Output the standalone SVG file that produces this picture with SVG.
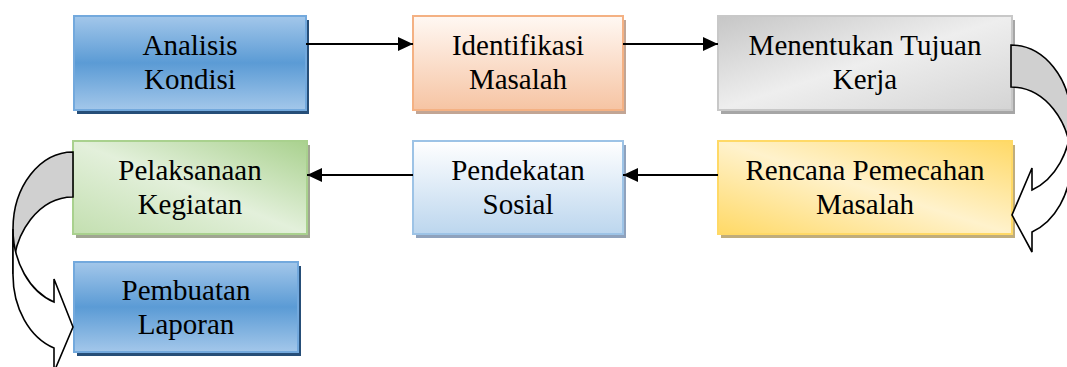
<svg xmlns="http://www.w3.org/2000/svg" width="1067" height="367" viewBox="0 0 1067 367">
<style>
.lbl{font-family:"Liberation Serif","Times New Roman",serif;font-size:29px;fill:#000;text-anchor:middle}
.conn{stroke:#000;stroke-width:2;fill:none}
.curve{stroke:#000;stroke-width:1.6;stroke-linejoin:miter}
.box{stroke-width:2}
</style>
<defs>
<marker id="ah" markerUnits="userSpaceOnUse" markerWidth="16" markerHeight="14" refX="15" refY="7" orient="auto">
<path d="M0,0 L15,7 L0,14 Z" fill="#000"/>
</marker>
<linearGradient id="gBlue" x1="0" y1="0" x2="0" y2="1">
<stop offset="0" stop-color="#a3c7ea"/><stop offset="0.5" stop-color="#5b9bd5"/><stop offset="1" stop-color="#a3c7ea"/>
</linearGradient>
<linearGradient id="gOrange" x1="0" y1="0" x2="0" y2="1">
<stop offset="0" stop-color="#fff8f3"/><stop offset="1" stop-color="#f6c4a3"/>
</linearGradient>
<linearGradient id="gGray" x1="0" y1="0" x2="1" y2="1">
<stop offset="0" stop-color="#c6c6c6"/><stop offset="0.5" stop-color="#eeeeee"/><stop offset="1" stop-color="#d4d4d4"/>
</linearGradient>
<linearGradient id="gGreen" x1="1" y1="0" x2="0" y2="1">
<stop offset="0" stop-color="#a9d18e"/><stop offset="0.5" stop-color="#e3f0db"/><stop offset="1" stop-color="#c3dfb0"/>
</linearGradient>
<linearGradient id="gLBlue" x1="0" y1="0" x2="0" y2="1">
<stop offset="0" stop-color="#ffffff"/><stop offset="1" stop-color="#bcd6ee"/>
</linearGradient>
<linearGradient id="gYellow" x1="1" y1="0" x2="0" y2="1">
<stop offset="0" stop-color="#ffd966"/><stop offset="0.5" stop-color="#fff2cc"/><stop offset="1" stop-color="#ffd966"/>
</linearGradient>
</defs>
<rect width="1067" height="367" fill="#fff"/>

<g id="node-analisis">
<rect x="77" y="20" width="232" height="94" fill="#264e78"/>
<rect class="box" x="74" y="16" width="232" height="94" fill="url(#gBlue)" stroke="#73a9dd"/>
<text class="lbl" x="190" y="55">Analisis</text>
<text class="lbl" x="190" y="89">Kondisi</text>
</g>
<g id="node-identifikasi">
<rect x="416" y="20" width="210" height="94" fill="#c2a594"/>
<rect class="box" x="413" y="16" width="210" height="94" fill="url(#gOrange)" stroke="#f4b183"/>
<text class="lbl" x="518" y="55">Identifikasi</text>
<text class="lbl" x="518" y="89">Masalah</text>
</g>
<g id="node-menentukan">
<rect x="721" y="20" width="294" height="94" fill="#a6a6a6"/>
<rect class="box" x="718" y="16" width="294" height="94" fill="url(#gGray)" stroke="#c8c8c8"/>
<text class="lbl" x="865" y="55">Menentukan Tujuan</text>
<text class="lbl" x="865" y="89">Kerja</text>
</g>
<g id="node-pelaksanaan">
<rect x="76" y="145" width="234" height="93" fill="#a0a592"/>
<rect class="box" x="73" y="141" width="234" height="93" fill="url(#gGreen)" stroke="#a9d18e"/>
<text class="lbl" x="190" y="180">Pelaksanaan</text>
<text class="lbl" x="190" y="214">Kegiatan</text>
</g>
<g id="node-pendekatan">
<rect x="416" y="145" width="210" height="93" fill="#8fa2bd"/>
<rect class="box" x="413" y="141" width="210" height="93" fill="url(#gLBlue)" stroke="#9dc3e6"/>
<text class="lbl" x="518" y="180">Pendekatan</text>
<text class="lbl" x="518" y="214">Sosial</text>
</g>
<g id="node-rencana">
<rect x="721" y="145" width="294" height="93" fill="#c0ad7c"/>
<rect class="box" x="718" y="141" width="294" height="93" fill="url(#gYellow)" stroke="#ffd966"/>
<text class="lbl" x="865" y="180">Rencana Pemecahan</text>
<text class="lbl" x="865" y="214">Masalah</text>
</g>
<g id="node-pembuatan">
<rect x="77" y="266" width="224" height="90" fill="#264e78"/>
<rect class="box" x="74" y="262" width="224" height="90" fill="url(#gBlue)" stroke="#73a9dd"/>
<text class="lbl" x="186" y="300">Pembuatan</text>
<text class="lbl" x="186" y="334">Laporan</text>
</g>

<g id="connectors">
<line class="conn" x1="306" y1="44" x2="413" y2="44" marker-end="url(#ah)"/>
<line class="conn" x1="623" y1="44" x2="718" y2="44" marker-end="url(#ah)"/>
<line class="conn" x1="718" y1="175" x2="623" y2="175" marker-end="url(#ah)"/>
<line class="conn" x1="413" y1="175" x2="307" y2="175" marker-end="url(#ah)"/>
<path class="curve" fill="#d0d0d0" d="M1011,45 A60,75 0 0 1 1071,120 L1071,162 A60,75 0 0 0 1011,87 Z"/>
<path class="curve" fill="#ffffff" d="M1071,120 A60,75 0 0 1 1032,190 L1032,168 L1012,215 L1032,252 L1032,232 A60,75 0 0 0 1071,162 Z"/>
<path class="curve" fill="#d0d0d0" d="M73,152 A60,77 0 0 0 13,229 L13,274 A60,77 0 0 1 73,197 Z"/>
<path class="curve" fill="#ffffff" d="M13,229 A60,77 0 0 0 54,302 L54,279 L73,327 L54,372 L54,348 A60,77 0 0 1 13,274 Z"/>
</g>
</svg>
